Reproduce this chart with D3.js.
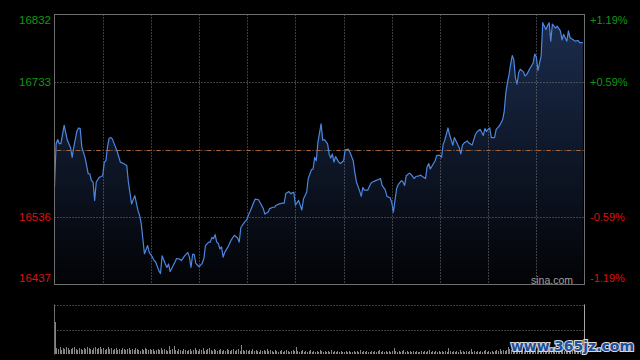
<!DOCTYPE html>
<html><head><meta charset="utf-8">
<script src="https://cdn.jsdelivr.net/npm/d3@7"></script>
<style>html,body{margin:0;padding:0;background:#000;}svg{display:block;}</style>
</head><body>
<svg id="c" width="640" height="360"></svg>
<script>
// ---- data ----
const prevClose = 16634.5;
const priceTicks = [16832, 16733, 16536, 16437];
const priceLabels = ["16832", "16733", "16536", "16437"];
const pctLabels = ["+1.19%", "+0.59%", "-0.59%", "-1.19%"];
const minutes = [0,1,2,3,4,6,8,10,11,12,14,15,16,17,19,21,22,23,24,25,26,28,30,31,32,33,34,35,36,38,39,41,43,45,46,48,50,52,53,54,56,58,59,61,62,63,65,66,67,69,70,71,72,75,76,78,79,81,83,84,85,86,87,88,90,92,93,94,96,97,98,99,100,101,102,103,104,105,106,108,110,112,114,115,116,117,118,120,121,122,124,125,127,128,130,131,133,134,136,137,138,140,142,143,144,146,147,148,149,150,152,154,155,157,158,160,161,162,163,164,166,167,168,170,171,172,173,174,175,177,178,180,181,183,184,186,187,188,190,191,192,193,195,197,198,200,202,203,204,206,207,209,210,211,212,213,214,216,217,218,219,221,222,224,225,227,228,229,231,232,233,234,236,237,238,240,241,242,243,245,246,248,249,250,252,253,254,255,257,258,260,262,263,265,267,268,269,270,271,272,274,275,277,279,280,281,282,283,284,285,286,287,288,289,290,292,293,294,296,298,299,300,301,302,303,304,306,307,308,309,310,312,313,315,316,317,319,320,321,323,324,326,327,329];
const prices = [16580,16643,16649,16643,16643,16670,16648,16637,16623,16638,16662,16666,16665,16638,16623,16599,16599,16589,16587,16560,16587,16594,16596,16616,16618,16638,16651,16652,16650,16638,16632,16616,16614,16611,16587,16555,16567,16545,16538,16526,16482,16494,16484,16477,16472,16470,16457,16453,16479,16467,16462,16467,16456,16470,16475,16474,16472,16479,16484,16477,16462,16481,16481,16468,16463,16468,16475,16494,16499,16499,16506,16504,16510,16499,16497,16489,16492,16477,16484,16492,16502,16509,16505,16499,16520,16524,16527,16533,16540,16545,16557,16562,16561,16557,16548,16540,16543,16548,16550,16550,16553,16555,16556,16556,16570,16573,16570,16571,16572,16553,16560,16546,16562,16572,16592,16605,16606,16623,16618,16645,16672,16648,16649,16643,16628,16622,16628,16616,16624,16616,16614,16618,16634,16635,16630,16618,16601,16587,16574,16566,16579,16575,16575,16585,16587,16589,16591,16592,16582,16575,16566,16564,16557,16543,16560,16577,16583,16589,16587,16582,16596,16600,16598,16592,16595,16596,16597,16595,16592,16609,16614,16606,16614,16618,16626,16626,16623,16642,16648,16666,16656,16641,16652,16647,16637,16628,16641,16644,16647,16644,16641,16656,16660,16664,16655,16665,16661,16664,16666,16652,16652,16664,16669,16678,16690,16717,16732,16744,16759,16772,16766,16739,16730,16747,16752,16748,16742,16744,16753,16761,16774,16770,16750,16761,16771,16820,16810,16816,16820,16793,16818,16812,16815,16808,16795,16803,16793,16808,16798,16795,16793,16794,16791,16791];
const volumes = [
32,6,5,7,4,6,5,7,6,4,5,6,7,5,4,6,5,4,6,5,7,6,5,4,6,7,5,6,7,5,
6,4,5,7,5,6,4,5,6,4,5,4,6,5,4,5,6,4,5,4,6,5,4,3,5,4,6,5,4,5,
4,5,3,4,5,4,6,4,5,4,3,8,4,5,8,4,3,5,4,3,5,4,3,4,5,3,4,6,4,3,
5,4,6,3,4,5,6,4,3,5,4,3,4,5,3,4,3,5,4,3,4,5,3,4,5,3,9,4,3,4,
3,4,3,5,3,4,3,2,4,3,4,3,5,3,4,3,2,4,3,2,3,4,2,3,4,3,2,3,4,3,
7,3,2,3,4,2,3,2,3,4,2,3,2,3,2,4,3,2,3,2,3,2,4,2,3,2,3,2,3,2,
2,3,2,3,2,2,3,2,3,2,4,2,3,2,3,2,2,3,2,3,2,3,4,2,3,2,3,2,3,2,
3,6,3,2,3,2,3,4,2,3,2,3,2,3,2,3,2,2,3,2,3,2,3,4,2,3,2,3,2,3,
2,3,2,3,2,6,3,2,3,2,3,2,4,2,3,2,3,2,3,5,2,3,2,3,2,3,2,3,4,2,
3,2,3,2,3,4,3,5,3,4,3,4,7,5,4,3,4,3,4,3,3,4,3,4,3,4,3,3,4,3,
4,3,4,3,4,5,3,4,3,4,3,4,3,4,3,3,4,3,4,3,4,3,3,4,3,4,3,4,5,6];
const totalMinutes = 330;
const gridMinutes = [30,60,90,120,150,180,210,240,270,300];

// ---- chart ----
const svg = d3.select("#c");
const L = 54.5, R = 584.5, T = 14.5, B = 284.5;
const VT = 304.5, VB = 354.5;
const x = d3.scaleLinear().domain([0, totalMinutes]).range([L, R]);
const y = d3.scaleLinear().domain([16437, 16832]).range([B, T]);
const yv = d3.scaleLinear().domain([0, 50]).range([VB, VT]);

svg.append("rect").attr("width", 640).attr("height", 360).attr("fill", "#000");

const defs = svg.append("defs");
const grad = defs.append("linearGradient").attr("id", "ag")
  .attr("gradientUnits", "userSpaceOnUse").attr("x1", 0).attr("x2", 0).attr("y1", T).attr("y2", B);
grad.append("stop").attr("offset", 0).attr("stop-color", "#1c2d4e");
grad.append("stop").attr("offset", 1).attr("stop-color", "#020306");

const pts = minutes.map((m, i) => [m, prices[i]]);

// area
svg.append("path").datum(pts)
  .attr("d", d3.area().x(d => x(d[0])).y0(B).y1(d => y(d[1])))
  .attr("fill", "url(#ag)");

// grid
const gridColor = "#7a7a7a";
svg.append("g").selectAll("line").data(gridMinutes).join("line")
  .attr("x1", d => Math.round(x(d)) + 0.5).attr("x2", d => Math.round(x(d)) + 0.5)
  .attr("y1", T).attr("y2", B)
  .attr("stroke", gridColor).attr("stroke-dasharray", "1,2");
svg.append("g").selectAll("line").data([16733, 16536]).join("line")
  .attr("x1", L).attr("x2", R)
  .attr("y1", d => Math.round(y(d)) + 0.5).attr("y2", d => Math.round(y(d)) + 0.5)
  .attr("stroke", gridColor).attr("stroke-dasharray", "1,2");
// prev close line
const pcY = Math.round(y(prevClose)) + 0.5;
svg.append("line").attr("x1", L).attr("x2", R).attr("y1", pcY).attr("y2", pcY)
  .attr("stroke", gridColor).attr("stroke-dasharray", "1,2");
svg.append("line").attr("x1", L + 2).attr("x2", R).attr("y1", pcY).attr("y2", pcY)
  .attr("stroke", "#b8642a").attr("stroke-dasharray", "4,6");

// price line
svg.append("path").datum(pts)
  .attr("d", d3.line().x(d => x(d[0])).y(d => y(d[1])))
  .attr("fill", "none").attr("stroke", "#4d86e0").attr("stroke-width", 1.2)
  .attr("stroke-linejoin", "round");

// frame
svg.append("rect").attr("x", L).attr("y", T).attr("width", R - L).attr("height", B - T)
  .attr("fill", "none").attr("stroke", "#6e6e6e");

// labels
const clampY = v => Math.min(Math.max(y(v), 20), 278);
svg.append("g").selectAll("text").data(priceTicks).join("text")
  .attr("x", 51).attr("y", d => clampY(d))
  .attr("text-anchor", "end").attr("dominant-baseline", "central")
  .attr("font-family", "Liberation Sans, Arial, sans-serif").attr("font-size", 11.5)
  .attr("fill", d => d > prevClose ? "#119911" : "#dd1111")
  .text((d, i) => priceLabels[i]);
svg.append("g").selectAll("text").data(priceTicks).join("text")
  .attr("x", 590).attr("y", d => clampY(d))
  .attr("text-anchor", "start").attr("dominant-baseline", "central")
  .attr("font-family", "Liberation Sans, Arial, sans-serif").attr("font-size", 11)
  .attr("fill", d => d > prevClose ? "#119911" : "#dd1111")
  .text((d, i) => pctLabels[i]);

svg.append("text").attr("x", 573).attr("y", 279.5).attr("text-anchor", "end")
  .attr("dominant-baseline", "central")
  .attr("font-family", "Liberation Sans, Arial, sans-serif").attr("font-size", 10.5)
  .attr("fill", "#a0a0a0").text("sina.com");

// volume panel
svg.append("g").selectAll("line").data([VT, yv(25)]).join("line")
  .attr("x1", L).attr("x2", R).attr("y1", d => Math.round(d) + 0.5).attr("y2", d => Math.round(d) + 0.5)
  .attr("stroke", gridColor).attr("stroke-dasharray", "1,2");
svg.append("line").attr("x1", L).attr("x2", L).attr("y1", VT).attr("y2", VB).attr("stroke", "#6e6e6e");
svg.append("line").attr("x1", R).attr("x2", R).attr("y1", VT).attr("y2", VB).attr("stroke", "#a8a8a8");
svg.append("g").selectAll("rect").data(volumes).join("rect")
  .attr("x", (d, i) => Math.floor(x(i + 0.5)))
  .attr("width", 1)
  .attr("y", d => yv(d) - 0.5)
  .attr("height", d => VB - yv(d))
  .attr("fill", "#858585");

// site watermark
svg.append("text").attr("x", 634).attr("y", 346).attr("text-anchor", "end")
  .attr("dominant-baseline", "central")
  .attr("font-family", "DejaVu Sans, sans-serif").attr("font-weight", "bold").attr("font-size", 14)
  .attr("fill", "#1d4f9e").attr("stroke", "#d8d8d8").attr("stroke-width", 2.2)
  .attr("paint-order", "stroke").text("www.365jz.com");
</script>
</body></html>
